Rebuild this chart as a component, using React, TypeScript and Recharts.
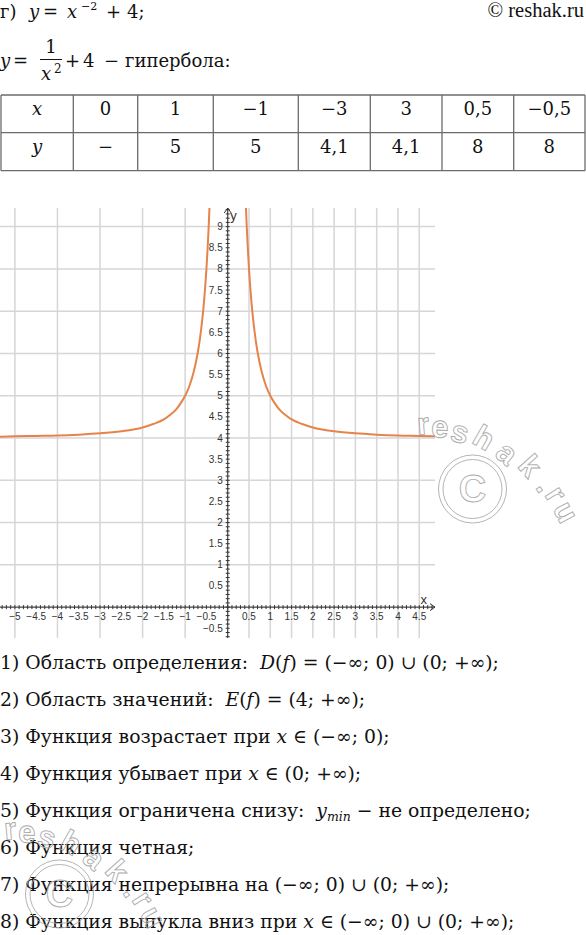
import React from 'react';
import {
  ComposedChart,
  Line,
  Scatter,
  XAxis,
  YAxis,
  CartesianGrid,
  ReferenceLine,
  ReferenceDot,
} from 'recharts';

// ---- table values ----
const tableXRow = ['x', '0', '1', '−1', '−3', '3', '0,5', '−0,5'];
const tableYRow = ['y', '−', '5', '5', '4,1', '4,1', '8', '8'];

// ---- curve points (left / right branch) ----
const leftX = [-5.4, -5, -4.5, -4, -3.5, -3, -2.5, -2, -1.75, -1.5, -1.35, -1.2, -1.1, -1, -0.9, -0.8, -0.75, -0.7, -0.65, -0.6, -0.56, -0.53, -0.5, -0.47, -0.45, -0.43, -0.42];
const leftY = [4.03, 4.04, 4.05, 4.06, 4.08, 4.11, 4.16, 4.25, 4.33, 4.44, 4.55, 4.69, 4.83, 5, 5.23, 5.56, 5.78, 6.04, 6.37, 6.78, 7.19, 7.56, 8, 8.53, 8.94, 9.41, 9.67];
const rightX = [0.42, 0.43, 0.45, 0.47, 0.5, 0.53, 0.56, 0.6, 0.65, 0.7, 0.75, 0.8, 0.9, 1, 1.1, 1.2, 1.35, 1.5, 1.75, 2, 2.5, 3, 3.5, 4, 4.5, 4.9];
const rightY = [9.67, 9.41, 8.94, 8.53, 8, 7.56, 7.19, 6.78, 6.37, 6.04, 5.78, 5.56, 5.23, 5, 4.83, 4.69, 4.55, 4.44, 4.33, 4.25, 4.16, 4.11, 4.08, 4.06, 4.05, 4.04];

// ---- axes ----
const X_DOMAIN: [number, number] = [-5.35, 4.87];
const Y_DOMAIN: [number, number] = [-0.73, 9.44];
const gridXValues = [-5, -4.5, -4, -3.5, -3, -2.5, -2, -1.5, -1, -0.5, 0, 0.5, 1, 1.5, 2, 2.5, 3, 3.5, 4, 4.5];
const gridYValues = [-0.5, 0, 0.5, 1, 1.5, 2, 2.5, 3, 3.5, 4, 4.5, 5, 5.5, 6, 6.5, 7, 7.5, 8, 8.5, 9];
const xLabelValues = [-5, -4.5, -4, -3.5, -3, -2.5, -2, -1.5, -1, -0.5, 0.5, 1, 1.5, 2, 2.5, 3, 3.5, 4, 4.5];
const yLabelValues = [-0.5, 0.5, 1, 1.5, 2, 2.5, 3, 3.5, 4, 4.5, 5, 5.5, 6, 6.5, 7, 7.5, 8, 8.5, 9];
const MINOR_STEP = 0.1;

const fmt = (v: number) => (v < 0 ? '−' : '') + String(Math.abs(v));

const leftData = leftX.map((x, i) => ({ x, y: leftY[i] }));
const rightData = rightX.map((x, i) => ({ x, y: rightY[i] }));
const xLabelData = xLabelValues.map((x) => ({ x, y: 0, label: fmt(x) }));
const yLabelData = yLabelValues.map((y) => ({ x: 0, y, label: fmt(y) }));
const xMinorData: { x: number; y: number }[] = [];
for (let i = Math.ceil(X_DOMAIN[0] / MINOR_STEP); i <= Math.floor(X_DOMAIN[1] / MINOR_STEP); i++) xMinorData.push({ x: i / 10, y: 0 });
const yMinorData: { x: number; y: number }[] = [];
for (let i = Math.ceil(Y_DOMAIN[0] / MINOR_STEP); i <= Math.floor(Y_DOMAIN[1] / MINOR_STEP); i++) yMinorData.push({ x: 0, y: i / 10 });

const SANS = "'Liberation Sans', Arial, sans-serif";
const SERIF = "'DejaVu Serif', serif";
const AXIS = '#333';
const CURVE = '#e6834b';
const TXT = '#111';
const LIST_FS = 18.8;

const XLabel = (p: any) => (
  <text x={p.cx} y={p.cy + 12.5} textAnchor="middle" fontSize={10} fontFamily={SANS} fill="#333">{p.payload.label}</text>
);
const YLabel = (p: any) => (
  <text x={p.cx - 5} y={p.cy + 3.5} textAnchor="end" fontSize={10} fontFamily={SANS} fill="#333">{p.payload.label}</text>
);
const XTick = (p: any) => <line x1={p.cx} x2={p.cx} y1={p.cy - 2} y2={p.cy + 2} stroke={AXIS} strokeWidth={1} />;
const YTick = (p: any) => <line x1={p.cx - 2} x2={p.cx + 2} y1={p.cy} y2={p.cy} stroke={AXIS} strokeWidth={1} />;
const YArrow = (p: any) => (
  <g>
    <path d={`M${p.cx - 3.5},${p.cy + 5} L${p.cx},${p.cy} L${p.cx + 3.5},${p.cy + 5}`} fill="none" stroke={AXIS} strokeWidth={1} />
    <text x={p.cx + 2.5} y={p.cy + 12} fontSize={13} fontFamily={SANS} fill="#333">y</text>
  </g>
);
const XArrow = (p: any) => (
  <g>
    <path d={`M${p.cx - 5},${p.cy - 3.5} L${p.cx},${p.cy} L${p.cx - 5},${p.cy + 3.5}`} fill="none" stroke={AXIS} strokeWidth={1} />
    <text x={p.cx - 14.5} y={p.cy - 3} fontSize={13} fontFamily={SANS} fill="#333">x</text>
  </g>
);

// ---- watermark ----
const wmLetters = [
  { c: 'r', x: 423, y: 424, r: -5 },
  { c: 'e', x: 440, y: 427, r: 3 },
  { c: 's', x: 460, y: 432, r: 15 },
  { c: 'h', x: 484, y: 438, r: 30 },
  { c: 'a', x: 507, y: 453, r: 40 },
  { c: 'k', x: 530, y: 466, r: 48 },
  { c: '.', x: 546, y: 485, r: 55 },
  { c: 'r', x: 556, y: 494, r: 58 },
  { c: 'u', x: 566, y: 512, r: 62 },
];
const Watermark = ({ dx, dy }: { dx: number; dy: number }) => (
  <g fill="none" stroke="#ababab" strokeWidth={0.9}>
    <circle cx={472.5 + dx} cy={489 + dy} r={34} />
    <circle cx={472.5 + dx} cy={489 + dy} r={29.5} />
    <text x={472.5 + dx} y={489 + dy} textAnchor="middle" dominantBaseline="central" fontSize={38} fontFamily={SANS} fontWeight="bold">C</text>
    {wmLetters.map((l, i) => (
      <text key={i} x={l.x + dx} y={l.y + dy} textAnchor="middle" dominantBaseline="central" fontSize={31} fontFamily={SANS} fontWeight="bold" transform={`rotate(${l.r} ${l.x + dx} ${l.y + dy})`}>{l.c}</text>
    ))}
  </g>
);

const colBorders = [1, 73.3, 137.7, 213.3, 298.3, 370.3, 442, 513.7, 585];
const rowBorders = [95, 132.7, 170.7];

const listLines: { n: string; parts: { t: string; i?: boolean; sub?: boolean }[] }[] = [
  { n: '1) Область определения:  ', parts: [{ t: 'D', i: true }, { t: '(' }, { t: 'f', i: true }, { t: ') = (−∞; 0) ∪ (0; +∞);' }] },
  { n: '2) Область значений:  ', parts: [{ t: 'E', i: true }, { t: '(' }, { t: 'f', i: true }, { t: ') = (4; +∞);' }] },
  { n: '3) Функция возрастает при ', parts: [{ t: 'x', i: true }, { t: ' ∈ (−∞; 0);' }] },
  { n: '4) Функция убывает при ', parts: [{ t: 'x', i: true }, { t: ' ∈ (0; +∞);' }] },
  { n: '5) Функция ограничена снизу:  ', parts: [{ t: 'y', i: true }, { t: 'min', i: true, sub: true }, { t: ' − не определено;' }] },
  { n: '6) Функция четная;', parts: [] },
  { n: '7) Функция непрерывна на (−∞; 0) ∪ (0; +∞);', parts: [] },
  { n: '8) Функция выпукла вниз при ', parts: [{ t: 'x', i: true }, { t: ' ∈ (−∞; 0) ∪ (0; +∞);' }] },
];

export default function App() {
  const cellCenters = colBorders.slice(0, -1).map((b, i) => (b + colBorders[i + 1]) / 2);
  return (
    <div style={{ position: 'absolute', left: 0, top: 0, width: 586, height: 935, background: '#fff', overflow: 'hidden' }}>
      <svg width={586} height={935} style={{ position: 'absolute', left: 0, top: 0 }}>
        {/* header */}
        <g fontFamily={SERIF} fontSize={18} fill={TXT}>
          <text x={0} y={18}>г)</text>
          <text x={29} y={18} fontStyle="italic">y</text>
          <text x={43} y={18}>=</text>
          <text x={67} y={18} fontStyle="italic">x</text>
          <text x={81} y={9.8} fontSize={11}>−2</text>
          <text x={106} y={18}>+</text>
          <text x={127} y={18}>4;</text>
        </g>
        <text x={584} y={16.5} textAnchor="end" fontFamily="'Liberation Serif', serif" fontSize={20.5} fill={TXT}>© reshak.ru</text>
        <g fontFamily={SERIF} fontSize={18} fill={TXT}>
          <text x={0} y={67} fontStyle="italic">y</text>
          <text x={13} y={67}>=</text>
          <text x={51} y={53} textAnchor="middle">1</text>
          <line x1={40} x2={62} y1={59.5} y2={59.5} stroke={TXT} strokeWidth={1} />
          <text x={41} y={79.5} fontStyle="italic">x</text>
          <text x={54} y={73} fontSize={12}>2</text>
          <text x={65} y={67}>+</text>
          <text x={83} y={67}>4</text>
          <text x={104} y={67}>−</text>
          <text x={125} y={67}>гипербола:</text>
        </g>
        {/* table */}
        <g stroke="#6b6b6b" strokeWidth={1.3}>
          {colBorders.map((x, i) => <line key={'c' + i} x1={x} x2={x} y1={rowBorders[0]} y2={rowBorders[2]} />)}
          {rowBorders.map((y, i) => <line key={'r' + i} x1={colBorders[0]} x2={colBorders[8]} y1={y} y2={y} />)}
        </g>
        <g fontFamily={SERIF} fontSize={18} fill={TXT} textAnchor="middle">
          {tableXRow.map((t, i) => <text key={'tx' + i} x={cellCenters[i]} y={115} fontStyle={i === 0 ? 'italic' : 'normal'}>{t}</text>)}
          {tableYRow.map((t, i) => <text key={'ty' + i} x={cellCenters[i]} y={153} fontStyle={i === 0 ? 'italic' : 'normal'}>{t}</text>)}
        </g>
        {/* list */}
        <g fontFamily={SERIF} fontSize={LIST_FS} fill={TXT}>
          {listLines.map((l, i) => {
            const base = 669 + 37 * i;
            return (
              <text key={'l' + i} x={0} y={base} xmlSpace="preserve" style={{ whiteSpace: 'pre' }}>
                <tspan>{l.n}</tspan>
                {l.parts.map((p, j) => (
                  <tspan
                    key={j}
                    y={p.sub ? base + 4 : base}
                    fontStyle={p.i ? 'italic' : 'normal'}
                    fontSize={p.sub ? 12.5 : LIST_FS}
                  >{p.t}</tspan>
                ))}
              </text>
            );
          })}
        </g>
      </svg>

      <div style={{ position: 'absolute', left: 0, top: 198 }}>
        <ComposedChart width={446} height={450} margin={{ top: 10, right: 11, bottom: 10, left: 0 }}>
          <CartesianGrid stroke="#d6d6d6" strokeWidth={1.5} verticalValues={gridXValues} horizontalValues={gridYValues} />
          <XAxis type="number" dataKey="x" domain={X_DOMAIN} allowDataOverflow hide ticks={gridXValues} />
          <YAxis type="number" dataKey="y" domain={Y_DOMAIN} allowDataOverflow hide ticks={gridYValues} />
          <ReferenceLine x={0} stroke={AXIS} strokeWidth={1} />
          <ReferenceLine y={0} stroke={AXIS} strokeWidth={1} />
          <Scatter data={xMinorData} shape={XTick} isAnimationActive={false} />
          <Scatter data={yMinorData} shape={YTick} isAnimationActive={false} />
          <Scatter data={xLabelData} shape={XLabel} isAnimationActive={false} />
          <Scatter data={yLabelData} shape={YLabel} isAnimationActive={false} />
          <ReferenceDot x={0} y={Y_DOMAIN[1]} r={0} ifOverflow="visible" shape={YArrow} />
          <ReferenceDot x={X_DOMAIN[1]} y={0} r={0} ifOverflow="visible" shape={XArrow} />
          <Line data={leftData} dataKey="y" type="monotone" stroke={CURVE} strokeWidth={2} dot={false} isAnimationActive={false} />
          <Line data={rightData} dataKey="y" type="monotone" stroke={CURVE} strokeWidth={2} dot={false} isAnimationActive={false} />
        </ComposedChart>
      </div>

      <svg width={586} height={935} style={{ position: 'absolute', left: 0, top: 0, pointerEvents: 'none' }}>
        <Watermark dx={0} dy={0} />
        <Watermark dx={-413} dy={405} />
      </svg>
    </div>
  );
}
